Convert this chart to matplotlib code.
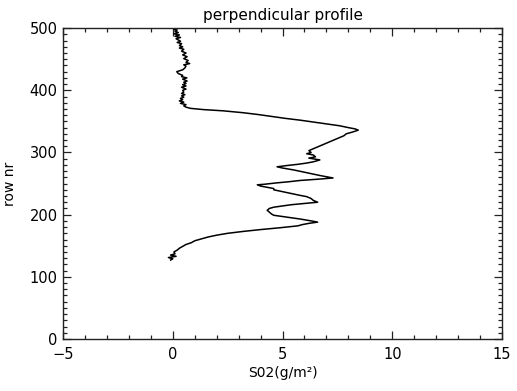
import numpy as np
import matplotlib
matplotlib.use("Agg")
import matplotlib.pyplot as plt
from matplotlib.ticker import MultipleLocator

# profile: row number and SO2 column (g/m^2)
rows = [127, 129, 131, 133, 135, 137, 140, 143, 146, 149, 152, 155, 158, 161,
        164, 167, 170, 173, 176, 179, 182, 184, 186, 188, 190, 193, 196, 199,
        201, 204, 207, 210, 212, 214, 216, 218, 220, 223, 226, 229, 231, 234,
        237, 240, 242, 244, 246, 248, 249, 251, 253, 255, 257, 259, 261, 263,
        266, 269, 272, 275, 277, 279, 281, 283, 285, 288, 291, 293, 296, 298,
        300, 303, 306, 309, 312, 315, 318, 321, 324, 327, 330, 333, 336, 338,
        340, 343, 346, 349, 352, 355, 358, 361, 364, 367, 369, 371, 373, 375,
        377, 379, 381, 383, 385, 387, 389, 391, 393, 395, 397, 400, 402, 405,
        407, 409, 411, 413, 415, 418, 420, 422, 424, 427, 430, 433, 436, 439,
        441, 443, 445, 448, 451, 454, 457, 460, 463, 466, 468, 470, 472, 475,
        477, 479, 481, 483, 485, 487, 489, 491, 493, 495, 497, 498]
so2 = [-0.1, 0.0, -0.2, 0.15, -0.1, 0.1, 0.05, 0.2, 0.3, 0.45, 0.6, 0.85, 1.0, 1.3,
       1.6, 2.0, 2.5, 3.2, 4.0, 4.9, 5.7, 5.9, 6.2, 6.6, 6.3, 5.8, 5.2, 4.6,
       4.5, 4.4, 4.3, 4.4, 4.6, 5.0, 5.4, 6.0, 6.6, 6.4, 6.3, 6.1, 5.8, 5.4,
       5.0, 4.6, 4.6, 4.3, 4.0, 3.85, 4.2, 4.7, 5.3, 5.8, 6.6, 7.3, 7.0, 6.7,
       6.3, 5.9, 5.5, 5.0, 4.75, 5.2, 5.7, 6.1, 6.4, 6.7, 6.2, 6.5, 6.4, 6.1,
       6.3, 6.2, 6.4, 6.6, 6.8, 7.0, 7.2, 7.4, 7.6, 7.8, 7.9, 8.2, 8.45, 8.3,
       8.0, 7.6, 7.0, 6.4, 5.8, 5.1, 4.5, 3.9, 3.2, 2.3, 1.4, 0.8, 0.6, 0.5,
       0.6, 0.35, 0.5, 0.3, 0.45, 0.35, 0.5, 0.4, 0.55, 0.4, 0.5, 0.45, 0.6, 0.4,
       0.6, 0.45, 0.6, 0.5, 0.65, 0.45, 0.64, 0.4, 0.45, 0.25, 0.18, 0.45, 0.55, 0.6,
       0.5, 0.77, 0.6, 0.7, 0.5, 0.65, 0.45, 0.6, 0.4, 0.5, 0.3, 0.45, 0.3, 0.4,
       0.2, 0.35, 0.25, 0.15, 0.35, 0.1, 0.3, 0.05, 0.25, 0.1, 0.2, 0.05]

title = "perpendicular profile"
xlabel = "S02(g/m²)"
ylabel = "row nr"

plt.rcParams['font.family'] = ['DejaVu Sans']
fig = plt.figure(figsize=(5.17, 3.91), dpi=100)
ax = fig.add_axes([0.122, 0.133, 0.849, 0.795])

ax.plot(so2, rows, color='black', linewidth=1.1)

ax.set_xlim(-5, 15)
ax.set_ylim(0, 500)
ax.xaxis.set_major_locator(MultipleLocator(5))
ax.xaxis.set_minor_locator(MultipleLocator(1))
ax.yaxis.set_major_locator(MultipleLocator(100))
ax.yaxis.set_minor_locator(MultipleLocator(10))
ax.tick_params(which='both', direction='in', top=True, right=True,
               labelsize=10.5, color='#222222', width=0.9)
ax.tick_params(which='major', length=6)
ax.tick_params(which='minor', length=3)
ax.tick_params(axis='x', which='major', pad=6)
ax.tick_params(axis='y', which='major', pad=4)
for s in ax.spines.values():
    s.set_linewidth(1.0)
    s.set_color('#222222')

ax.set_title(title, fontsize=11, pad=6)
ax.set_xlabel(xlabel, fontsize=10, labelpad=3)
ax.set_ylabel(ylabel, fontsize=10, labelpad=9)

fig.savefig('out.png', dpi=100)
